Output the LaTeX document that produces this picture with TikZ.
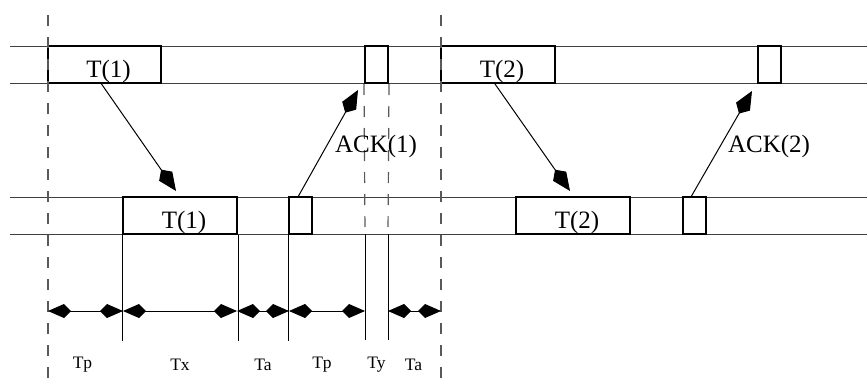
\documentclass[tikz,border=0pt]{standalone}
\usepackage{fontspec}
\setmainfont{Liberation Serif}
\usetikzlibrary{arrows.meta,calc}

\begin{document}
\begin{tikzpicture}[
    x=1pt, y=-1pt,
    every node/.style={font=\fontsize{25}{30}\selectfont},
    frame/.style={rectangle, draw, line width=2pt, minimum width=#1, minimum height=37pt, inner sep=0pt},
    lane/.style={line width=1pt, color=black!75},
    timeline/.style={line width=1.2pt, dash pattern=on 11pt off 11pt, color=black!65},
    tick/.style={line width=1pt},
    msg/.style={-{Kite[length=26pt, width=16pt, inset=8pt]}, line width=1pt},
    span/.style={{Kite[length=23pt, width=14pt, inset=7pt]}-{Kite[length=23pt, width=14pt, inset=7pt]}, line width=1pt},
    spanlabel/.style={font=\fontsize{17.5}{21}\selectfont}
]
\useasboundingbox (0,0) rectangle (867,380);

% Sender and receiver lanes
\draw[lane] (10,46) -- (867,46);
\draw[lane] (10,83) -- (867,83);
\draw[lane] (10,197) -- (867,197);
\draw[lane] (10,234) -- (867,234);

% Sender frames (top)
\node[frame=113pt] (send1) at (104.5,64.5) {};
\node at ($(send1.center)+(4,7)$) {T(1)};
\node[frame=23pt] (sack1) at (376.5,64.5) {};
\node[frame=114pt] (send2) at (498,64.5) {};
\node at ($(send2.center)+(4,7)$) {T(2)};
\node[frame=23pt] (sack2) at (769.5,64.5) {};

% Receiver frames (bottom)
\node[frame=114pt] (recv1) at (180,215.5) {};
\node at ($(recv1.center)+(4,7)$) {T(1)};
\node[frame=23pt] (rack1) at (300.5,215.5) {};
\node[frame=114pt] (recv2) at (573,215.5) {};
\node at ($(recv2.center)+(4,7)$) {T(2)};
\node[frame=23pt] (rack2) at (694.5,215.5) {};

% Cycle boundaries
\coordinate (cyc1top) at (48,15);
\coordinate (cyc1bot) at (48,380);
\coordinate (cyc2top) at (441,15);
\coordinate (cyc2bot) at (441,380);
\draw[timeline] (cyc1top) -- (cyc1bot);
\draw[timeline] (cyc2top) -- (cyc2bot);

% Ack frame edges carried down
\coordinate (ackl) at (365,234);
\coordinate (ackr) at (388,234);
\draw[timeline] (sack1.south west) -- (ackl);
\draw[timeline] (sack1.south east) -- (ackr);

% Measuring ticks
\coordinate (m0) at (48,311);
\coordinate (m1) at (123,311);
\coordinate (m2) at (237,311);
\coordinate (m3) at (289,311);
\coordinate (m4) at (365,311);
\coordinate (m5) at (388,311);
\coordinate (m6) at (441,311);
\draw[tick] (recv1.south west) -- ++(0,106);
\draw[tick] (recv1.south east) -- ++(0,106);
\draw[tick] (rack1.south west) -- ++(0,106);
\draw[tick] (ackl) -- ++(0,106);
\draw[tick] (ackr) -- ++(0,106);

% Messages
\draw[msg] ($(send1.south)+(-3,0)$) -- ($(recv1.north)+(-4,-5)$);
\draw[msg] ($(rack1.north)+(-2,0)$) -- ($(sack1.south west)+(-6,6)$);
\draw[msg] ($(send2.south)+(-3,0)$) -- ($(recv2.north)+(-3,-5)$);
\draw[msg] ($(rack2.north)+(-3,0)$) -- ($(sack2.south west)+(-5,7)$);
\node (ack1lbl) at (376,146) {ACK(1)};
\node (ack2lbl) at (769,146) {ACK(2)};

% Time spans
\draw[span] (m0) -- (m1);
\draw[span] (m1) -- (m2);
\draw[span] (m2) -- (m3);
\draw[span] (m3) -- (m4);
\draw[span] (m5) -- (m6);
\node[spanlabel] at ($(m0)!.5!(m1)+(-3,54)$) {Tp};
\node[spanlabel] at ($(m1)!.5!(m2)+(0,54)$) {Tx};
\node[spanlabel] at ($(m2)!.5!(m3)+(0,54)$) {Ta};
\node[spanlabel] at ($(m3)!.5!(m4)+(-5,54)$) {Tp};
\node[spanlabel] at ($(m4)!.5!(m5)+(0,54)$) {Ty};
\node[spanlabel] at ($(m5)!.5!(m6)+(-1,54)$) {Ta};

\end{tikzpicture}
\end{document}
